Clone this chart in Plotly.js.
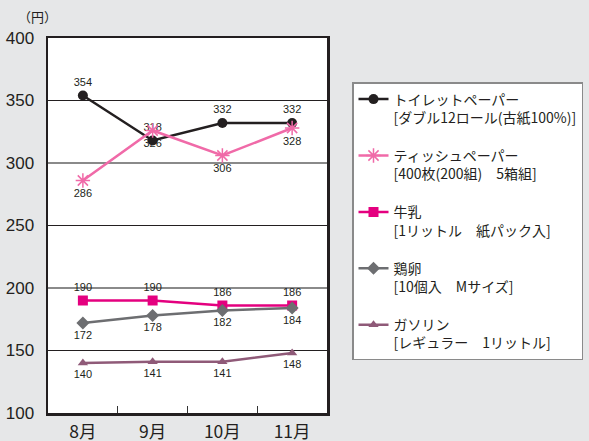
<!DOCTYPE html>
<html>
<head>
<meta charset="utf-8">
<script src="https://cdn.plot.ly/plotly-3.0.1.min.js"></script>
<style>html,body{margin:0;padding:0;background:#e6e7e8;}#chart{width:589px;height:441px;}</style>
</head>
<body>
<div id="chart"></div>
<script>
const months = ["8月", "9月", "10月", "11月"];
const toiletPaper = [354, 318, 332, 332];
const tissuePaper = [286, 326, 306, 328];
const milk = [190, 190, 186, 186];
const eggs = [172, 178, 182, 184];
const gasoline = [140, 141, 141, 148];
const yTicks = [100, 150, 200, 250, 300, 350, 400];
const blackGridLines = [150, 250, 350];
const grayGridLines = [200, 300];
const names = [
  "トイレットペーパー<br>[ダブル12ロール(古紙100%)]",
  "ティッシュペーパー<br>[400枚(200組)　5箱組]",
  "牛乳<br>[1リットル　紙パック入]",
  "鶏卵<br>[10個入　Mサイズ]",
  "ガソリン<br>[レギュラー　1リットル]"
];

const labelFont = {family: "Liberation Sans, Arial, sans-serif", size: 11, color: "#231f20"};
function tr(vals, name, color, symbol, size, pos, group, lineExtra) {
  return {
    x: months, y: vals, name: name, type: "scatter", mode: "lines+markers+text",
    legendgroup: group,
    line: {color: color, width: 2.5},
    marker: Object.assign({color: color, symbol: symbol, size: size}, lineExtra || {}),
    text: vals.map(String), textposition: pos, textfont: labelFont,
    cliponaxis: false, hoverinfo: "skip"
  };
}
const data = [
  tr(toiletPaper, names[0], "#231f20", "circle", 10, "top center", "g1"),
  tr(tissuePaper, names[1], "#f06aa8", "asterisk-open", 12, "bottom center", "g2", {line: {color: "#f06aa8", width: 1.5}}),
  tr(milk, names[2], "#e4007f", "square", 10, "top center", "g3"),
  tr(eggs, names[3], "#6d6e71", "diamond", 10, "bottom center", "g4"),
  tr(gasoline, names[4], "#8f5a78", "triangle-up", 9, "bottom center", "g5")
];

const layout = {
  width: 589, height: 441,
  paper_bgcolor: "#e6e7e8", plot_bgcolor: "#ffffff",
  margin: {l: 48, r: 262, t: 38, b: 28, autoexpand: false},
  showlegend: true,
  font: {family: "Noto Sans CJK JP, sans-serif", color: "#231f20"},
  xaxis: {
    type: "category", range: [-0.5, 3.5], tickson: "boundaries",
    ticks: "inside", ticklen: 7, tickwidth: 1, tickcolor: "#333",
    showgrid: false, showline: true, mirror: true, linewidth: 2.5, linecolor: "#231f20",
    tickfont: {family: "Noto Sans CJK JP, sans-serif", size: 17.5, color: "#231f20"},
    ticklabelstandoff: 1, zeroline: false, fixedrange: true
  },
  yaxis: {
    range: [100, 400], tickvals: yTicks, ticktext: yTicks.map(String),
    showgrid: false,
    minor: {tickvals: blackGridLines, showgrid: true, gridcolor: "#231f20", gridwidth: 1, ticks: ""},
    showline: true, mirror: true, linewidth: 2.5, linecolor: "#231f20",
    ticks: "", ticklabelstandoff: 8, zeroline: false,
    tickfont: {family: "Liberation Sans, Arial, sans-serif", size: 17, color: "#231f20"},
    fixedrange: true
  },
  shapes: grayGridLines.map(v => ({
    type: "line", xref: "paper", yref: "y", x0: 0, x1: 1, y0: v, y1: v,
    layer: "below", line: {color: "#8a8a8a", width: 2}
  })),
  legend: {
    xref: "container", yref: "container",
    x: 352 / 589, xanchor: "left", y: 1 - 82 / 441, yanchor: "top",
    maxheight: 1,
    bgcolor: "#ffffff", bordercolor: "#8a8a8a", borderwidth: 1.5,
    font: {family: "Noto Sans CJK JP, sans-serif", size: 14, color: "#231f20"},
    valign: "top", tracegroupgap: 17, itemwidth: 30
  },
  annotations: [{
    text: "（円）", xref: "paper", yref: "paper", x: -0.114, y: 1.0, yshift: 22,
    xanchor: "left", yanchor: "middle", showarrow: false,
    font: {family: "Noto Sans CJK JP, sans-serif", size: 13, color: "#231f20"}
  }]
};
Plotly.newPlot("chart", data, layout, {displayModeBar: false, staticPlot: true});
</script>
</body>
</html>
